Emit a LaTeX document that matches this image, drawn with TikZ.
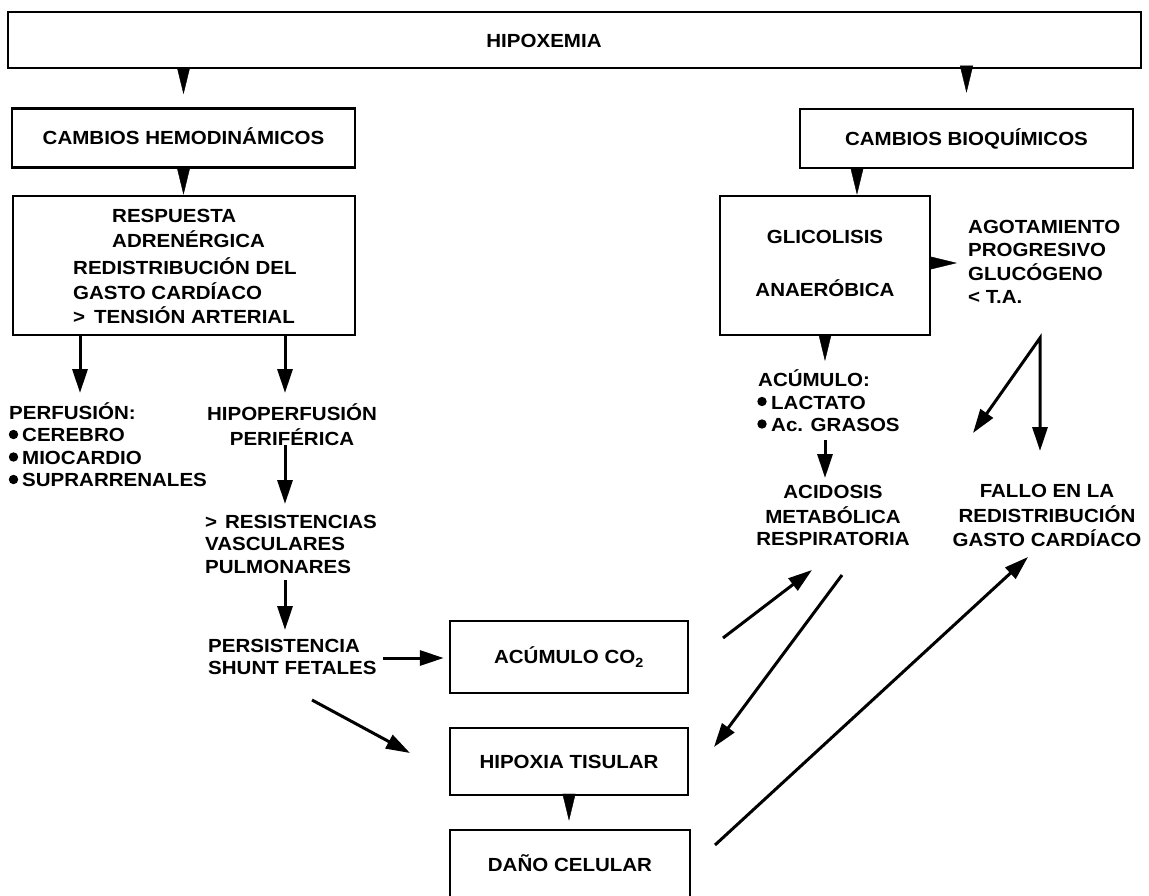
\documentclass[tikz,border=0pt]{standalone}
\usepackage{fontspec}
\setmainfont{Liberation Sans}[FakeStretch=1.08]
\usetikzlibrary{arrows.meta}
\begin{document}
\begin{tikzpicture}[x=1pt,y=-1pt,
  box/.style={draw,line width=2.5pt,inner sep=0pt},
  txt/.style={inner sep=0pt,font=\bfseries\fontsize{19}{22.5}\selectfont},
  boxtxt/.style={box,font=\bfseries\fontsize{19}{22.5}\selectfont,text height=13.6pt,text depth=0pt},
  wedge/.style={line width=0.4pt,-{Triangle[length=27pt,width=13pt]}},
  arr/.style={line width=3pt,-{Triangle[length=24pt,width=15pt]}},
  arrtwo/.style={line width=3pt,{Triangle[length=24pt,width=15pt]}-{Triangle[length=24pt,width=15pt]}},
  dot/.style={fill=black},
]
\useasboundingbox (0,0) rectangle (1149,896);
\clip (0,0) rectangle (1149,896);

% boxes
\node[box,minimum width=1133pt,minimum height=56pt] (hip) at (574.5,40) {};
\node[txt] (hiplbl) at (544,41) {HIPOXEMIA};
\node[boxtxt,minimum width=343pt,minimum height=59pt] (hemo) at (183.5,138) {CAMBIOS HEMODINÁMICOS};
\node[boxtxt,minimum width=333pt,minimum height=59pt] (bioq) at (966.5,138.5) {CAMBIOS BIOQUÍMICOS};
\node[box,minimum width=342pt,minimum height=139pt] (resp) at (184,265.5) {};
\node[txt,anchor=west,align=left] (resp1) at (112,230.5) {\strut RESPUESTA\\\strut ADRENÉRGICA};
\node[txt,anchor=west,align=left] (resp2) at (73,294) {\strut REDISTRIBUCIÓN DEL\\\strut GASTO CARDÍACO\\\strut >\hspace{9pt}TENSIÓN ARTERIAL};
\node[box,minimum width=210pt,minimum height=139pt,font=\bfseries\fontsize{19}{22.5}\selectfont,align=center] (glic) at (825,265.5) {\strut GLICOLISIS\\[27.5pt]\strut ANAERÓBICA};
\node[boxtxt,minimum width=238pt,minimum height=72pt] (co2) at (569,657) {ACÚMULO CO\textsubscript{2}};
\node[boxtxt,minimum width=238pt,minimum height=67pt] (hipt) at (569,761.5) {HIPOXIA TISULAR};
\node[boxtxt,minimum width=240pt,minimum height=70pt] (dano) at (570,865) {DAÑO CELULAR};

% free text
\node[txt,anchor=west,align=left] (perf) at (9,448) {\strut PERFUSIÓN:\\\strut\hspace{13pt}CEREBRO\\\strut\hspace{13pt}MIOCARDIO\\\strut\hspace{13pt}SUPRARRENALES};
\fill[dot] (13.5,434.5) circle (4.7pt);
\fill[dot] (13.5,457) circle (4.7pt);
\fill[dot] (13.5,479.5) circle (4.7pt);
\node[txt,align=center] (hipoperf) at (292,428) {\strut HIPOPERFUSIÓN\\\strut PERIFÉRICA};
\node[txt,anchor=west,align=left] (resist) at (205,546) {\strut >\hspace{8pt}RESISTENCIAS\\\strut VASCULARES\\\strut PULMONARES};
\node[txt,anchor=west,align=left] (persist) at (208,659) {\strut PERSISTENCIA\\\strut SHUNT FETALES};
\node[txt,anchor=west,align=left] (acum) at (758,404) {\strut ACÚMULO:\\\strut\hspace{13pt}LACTATO\\\strut\hspace{13pt}Ac. GRASOS};
\fill[dot] (762,401.5) circle (4.7pt);
\fill[dot] (762,424) circle (4.7pt);
\node[txt,anchor=west,align=left] (agot) at (968,264) {\strut AGOTAMIENTO\\\strut PROGRESIVO\\\strut GLUCÓGENO\\\strut <\ T.A.};
\node[txt,align=center] (acid) at (833,517.5) {\strut ACIDOSIS\\\strut METABÓLICA\\\strut RESPIRATORIA};
\node[txt,align=center] (fallo) at (1047,517.5) {\strut FALLO EN LA\\\strut REDISTRIBUCIÓN\\\strut GASTO CARDÍACO};

% coordinates for free arrow ends
\coordinate (t1) at (80,393);
\coordinate (t2) at (285,393);
\coordinate (s3) at (285,445);
\coordinate (t3) at (285,504);
\coordinate (s4) at (285,580);
\coordinate (t4) at (285,630);
\coordinate (s5) at (383,658);
\coordinate (s6) at (312,700);
\coordinate (t6) at (410,753);
\coordinate (s7) at (723,638);
\coordinate (t7) at (812,570);
\coordinate (s8) at (842,575);
\coordinate (t8) at (714,747);
\coordinate (s10) at (715,845);
\coordinate (t10) at (1028,557);
\coordinate (t11) at (957,263);
\coordinate (t12) at (825,361);
\coordinate (s13) at (825,440);
\coordinate (t13) at (825,478);
\coordinate (ap) at (1040,338);
\coordinate (ta) at (973,433);
\coordinate (tb) at (1040,451);
\coordinate (cg) at (857,0);

% box-to-box wedges
\draw[wedge,shorten >=13pt] (hip.south -| hemo.north) -- (hemo.north);
\draw[wedge,shorten >=15pt] (hip.south -| bioq.north) -- (bioq.north);
\draw[wedge] (hemo.south) -- (hemo.south |- resp.north);
\draw[wedge] (bioq.south -| cg) -- (glic.north -| cg);
\draw[wedge] (glic.east |- t11) -- (t11);
\draw[wedge] (glic.south) -- (t12);
\draw[wedge,shorten >=8pt] (hipt.south) -- (hipt.south |- dano.north);

% arrows
\draw[arr] (resp.south -| t1) -- (t1);
\draw[arr] (resp.south -| t2) -- (t2);
\draw[arr] (s3) -- (t3);
\draw[arr] (s4) -- (t4);
\draw[arr,shorten >=5pt] (s5) -- (co2.west |- s5);
\draw[arr] (s6) -- (t6);
\draw[arr] (s7) -- (t7);
\draw[arr] (s8) -- (t8);
\draw[arr] (s10) -- (t10);
\draw[arr] (s13) -- (t13);
\draw[arrtwo] (ta) -- (ap) -- (tb);
\end{tikzpicture}
\end{document}
